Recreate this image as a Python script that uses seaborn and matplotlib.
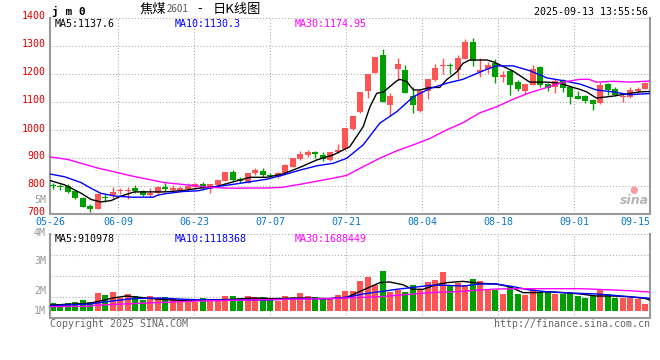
import numpy as np
import pandas as pd
import matplotlib
matplotlib.use("Agg")
import matplotlib.pyplot as plt
import matplotlib.transforms as mtransforms
import seaborn as sns

# ---------------- data ----------------
opens = [803, 801, 799, 781, 757, 730, 718, 762, 767, 781, 781, 792, 781, 767, 776, 798, 786, 782, 791, 795,
         806, 790, 803, 819, 850, 826, 812, 848, 854, 838, 831, 845, 869, 897, 912, 923, 912, 893, 922, 931,
         1002, 1064, 1139, 1205, 1268, 1090, 1218, 1214, 1121, 1067, 1140, 1179, 1229, 1233, 1214, 1255, 1314, 1208, 1217, 1240,
         1190, 1210, 1171, 1141, 1162, 1224, 1164, 1155, 1179, 1152, 1121, 1121, 1107, 1095, 1164, 1145, 1119, 1117, 1140, 1148]
highs = [810, 808, 807, 786, 762, 735, 774, 770, 796, 793, 798, 804, 786, 794, 801, 812, 805, 800, 812, 812,
         814, 806, 822, 850, 857, 831, 848, 864, 864, 845, 851, 879, 901, 925, 929, 926, 922, 922, 950, 1007,
         1050, 1136, 1200, 1262, 1288, 1131, 1257, 1233, 1152, 1143, 1181, 1236, 1257, 1238, 1269, 1324, 1329, 1256, 1243, 1252,
         1212, 1217, 1179, 1164, 1233, 1229, 1167, 1181, 1183, 1157, 1140, 1124, 1107, 1171, 1169, 1155, 1131, 1152, 1155, 1171]
lows = [791, 787, 774, 754, 726, 708, 717, 744, 758, 771, 754, 774, 764, 762, 773, 782, 777, 777, 787, 790,
        786, 776, 798, 819, 819, 810, 812, 841, 831, 829, 828, 845, 867, 893, 903, 899, 891, 891, 919, 929,
        1000, 1062, 1114, 1205, 1100, 1050, 1179, 1131, 1062, 1064, 1112, 1176, 1200, 1200, 1183, 1252, 1229, 1190, 1205, 1169,
        1171, 1126, 1138, 1129, 1160, 1155, 1140, 1133, 1136, 1093, 1110, 1098, 1071, 1093, 1124, 1121, 1100, 1114, 1133, 1145]
closes = [799, 798, 779, 757, 726, 718, 771, 756, 779, 785, 786, 782, 768, 776, 798, 791, 793, 793, 800, 808,
          794, 806, 822, 850, 822, 819, 845, 857, 838, 834, 848, 875, 899, 914, 922, 913, 898, 922, 929, 1006,
          1050, 1136, 1200, 1262, 1100, 1121, 1236, 1133, 1090, 1140, 1181, 1221, 1233, 1230, 1257, 1314, 1248, 1215, 1233, 1188,
          1198, 1162, 1145, 1164, 1217, 1160, 1150, 1174, 1150, 1119, 1112, 1105, 1093, 1160, 1143, 1124, 1121, 1143, 1148, 1167]
volumes_m = [0.69, 0.58, 0.69, 0.78, 0.94, 0.75, 1.52, 1.36, 1.61, 1.08, 1.45, 1.25, 0.92, 1.27, 1.05, 1.14, 0.97, 0.86, 0.97, 0.75,
             1.11, 0.83, 0.83, 1.25, 1.25, 1.08, 1.25, 1.17, 1.17, 0.92, 0.83, 1.27, 1.14, 1.50, 1.25, 1.14, 1.03, 1.05, 1.33, 1.67,
             1.67, 2.50, 2.84, 2.17, 3.33, 1.58, 1.75, 1.58, 2.17, 1.82, 2.41, 2.59, 3.25, 2.11, 2.33, 2.17, 2.66, 2.50, 1.80, 1.75,
             1.42, 2.00, 1.42, 1.33, 1.92, 1.61, 1.61, 1.42, 1.42, 1.48, 1.27, 1.08, 1.25, 1.83, 1.42, 1.08, 1.08, 1.08, 1.00, 0.58]

# moving-average lines, read as (candle index, value) vertices
ma5_x = [-0.4, 1.6, 3.8, 5.1, 6.4, 7.8, 9.1, 10.9, 14.9, 17.2, 19.4, 21.8, 24.1, 26.3, 28.5, 30.7, 33, 35.2, 37.4,
         39.6, 40.5, 41.4, 42.3, 43.2, 44.1, 45.9, 46.3, 47.2, 48.1, 49, 50.3, 51.6, 52.5, 53.9, 54.7, 55.6, 57.9,
         58.8, 59.6, 61.4, 63.6, 65.9, 67.6, 69.4, 70.3, 71.2, 72.5, 74.7, 77, 78.3, 79.6]
ma5_y = [820, 804, 774, 752, 743, 748, 764, 779, 779, 783, 792, 798, 815, 831, 831, 843, 867, 893, 911,
         940, 976, 1012, 1083, 1131, 1136, 1176, 1181, 1173, 1143, 1143, 1152, 1152, 1179, 1208, 1238, 1250, 1250,
         1243, 1233, 1210, 1171, 1171, 1167, 1152, 1145, 1136, 1114, 1121, 1131, 1136, 1137.6]
ma10_x = [-0.4, 1.6, 3.8, 5.1, 6.4, 8.3, 10.5, 13.4, 14, 14.9, 17.2, 19.4, 21.8, 24.1, 26.3, 28.5, 30.7, 33, 35.2, 37.4,
          39.2, 41.4, 43.6, 45.9, 48.1, 50.3, 52.5, 54.7, 57, 58.3, 59.2, 61.4, 63.6, 65.9, 68.1, 70.3, 72.5, 74.7, 77, 79.6]
ma10_y = [843, 833, 812, 792, 774, 764, 760, 760, 767, 772, 780, 783, 798, 806, 815, 824, 839, 857, 872, 881,
          899, 947, 1024, 1066, 1119, 1148, 1167, 1181, 1207, 1221, 1229, 1229, 1212, 1186, 1176, 1164, 1143, 1136, 1126, 1130.3]
ma30_x = [-0.4, 2.0, 3.8, 6.0, 8.3, 10.5, 12.7, 14.9, 17.2, 19.4, 20.5, 23.6, 28.5, 30.5, 33, 35.2, 37.4, 39.2,
          41.4, 43.6, 45.9, 48.1, 50.3, 52.5, 54.7, 57, 59.2, 61.4, 63.6, 65.9, 68.1, 70.3, 71.5, 72.5, 74.7, 77, 79.6]
ma30_y = [904, 895, 881, 864, 850, 836, 824, 812, 806, 800, 796, 792, 793, 795, 806, 817, 828, 838,
          869, 899, 926, 947, 970, 1000, 1026, 1062, 1083, 1110, 1133, 1152, 1171, 1181, 1181, 1171, 1174, 1171, 1174.95]

vma5_x = [-0.4, 4.9, 6.3, 8.0, 9.8, 11.6, 14.3, 17.8, 20.5, 24, 26.7, 29.4, 33, 36.9, 39.2, 41.4, 43.6, 44.9, 46.7, 48,
          49.4, 51.1, 52.5, 54.7, 56.9, 59.1, 60.9, 62.7, 64.5, 65.8, 68, 70.3, 72.5, 74.7, 76.9, 79.1, 79.6]
vma5_y = [0.49, 0.64, 0.83, 1.08, 1.25, 1.14, 0.97, 0.86, 0.92, 0.97, 1.08, 1.03, 1.08, 1.03, 1.14, 1.75, 2.36, 2.42, 2.19, 1.81,
          1.81, 2.19, 2.36, 2.47, 2.31, 2.25, 2.03, 1.53, 1.53, 1.61, 1.53, 1.42, 1.25, 1.25, 1.19, 1.03, 0.91]
vma10_x = [-0.4, 4.9, 7.6, 10.7, 14.3, 17.8, 20.5, 24, 28.5, 33, 36.9, 39.2, 41.4, 43.6, 45.9, 48.1, 50.3, 52.5, 54.7, 56.9,
           59.1, 61.4, 63.6, 65.8, 68.1, 70.3, 72.5, 74.7, 76.9, 79.6]
vma10_y = [0.44, 0.58, 0.81, 1.03, 1.08, 0.97, 0.92, 0.92, 0.92, 1.03, 1.03, 1.14, 1.42, 1.61, 1.81, 1.97, 2.14, 2.14, 2.08, 2.25,
           2.25, 2.03, 1.75, 1.61, 1.53, 1.47, 1.42, 1.31, 1.19, 1.06]
vma30_x = [-0.4, 4.9, 5.4, 8.5, 14.7, 19.1, 28, 36.9, 39.2, 41.4, 43.6, 45.9, 48.1, 50.3, 52.5, 54.7, 56.9, 59.1, 61.4, 63.6,
           65.8, 68.1, 70.3, 72.5, 74.7, 76.9, 79.6]
vma30_y = [0.36, 0.39, 0.47, 0.56, 0.72, 0.83, 0.94, 1.03, 1.08, 1.14, 1.19, 1.31, 1.42, 1.53, 1.58, 1.64, 1.75, 1.83, 1.86, 1.86,
           1.86, 1.86, 1.86, 1.81, 1.75, 1.69, 1.58]

price_ticks = [700, 800, 900, 1000, 1100, 1200, 1300, 1400]
date_labels = ["05-26", "06-09", "06-23", "07-07", "07-21", "08-04", "08-18", "09-01", "09-15"]
vol_labels = ["5M", "4M", "3M", "2M", "1M"]
price_legend = ["MA5:1137.6", "MA10:1130.3", "MA30:1174.95"]
vol_legend = ["MA5:910978", "MA10:1118368", "MA30:1688449"]

# ---------------- styling / layout ----------------
RED = "#ff5454"
GREEN = "#009f00"
BLUE_MA = "#0000ff"
MAG = "#ff00ff"
DATE_C = "#0a78d2"
GRID_C = "#a8a8a8"
SPINE_C = "#9a9a9a"

sns.set_theme(style="white")
plt.rcParams["font.family"] = ["DejaVu Sans Mono", "Noto Sans CJK SC"]

W, H = 660, 360
fig = plt.figure(figsize=(W / 100, H / 100), dpi=100)
fig.patch.set_facecolor("white")


def fx(px):
    return px / W


def fy(py):
    return 1 - py / H


def T(px, py, s, **kw):
    kw.setdefault("fontsize", 7.2)
    kw.setdefault("va", "center")
    kw.setdefault("ha", "left")
    fig.text(fx(px), fy(py), s, **kw)


PX0, PX1, STEP, C0 = 50, 650, 7.5, 52.7   # panel pixels, candle spacing
def dx(px):
    return (px - C0) / STEP


ax = fig.add_axes([fx(PX0), fy(214), fx(PX1 - PX0), (214 - 18) / H])
axv = fig.add_axes([fx(PX0), fy(318), fx(PX1 - PX0), (318 - 234) / H], sharex=ax)

n = len(closes)
idx = np.arange(n)
o = np.array(opens, float)
c = np.array(closes, float)
up = c >= o
cols = np.where(up, RED, GREEN)

# grid first
grid_px = [118, 194, 270, 346, 422, 498, 574]
for a in (ax, axv):
    for gp in grid_px:
        a.axvline(dx(gp), color=GRID_C, lw=0.75, ls=(0, (1, 2)), zorder=0.5)
for t in price_ticks:
    ax.axhline(t, color=GRID_C, lw=0.75, ls=(0, (1, 2)), zorder=0.5, clip_on=False)

# candles
ax.vlines(idx, lows, highs, colors=cols, lw=1.0, zorder=2)
body_b = np.minimum(o, c)
body_h = np.maximum(np.abs(c - o), 2.5)
ax.bar(idx, body_h, bottom=body_b, width=0.8, color=cols, linewidth=0, zorder=3)

df_ma = pd.concat([
    pd.DataFrame({"x": ma5_x, "y": ma5_y, "ma": "MA5"}),
    pd.DataFrame({"x": ma10_x, "y": ma10_y, "ma": "MA10"}),
    pd.DataFrame({"x": ma30_x, "y": ma30_y, "ma": "MA30"}),
])
sns.lineplot(data=df_ma, x="x", y="y", hue="ma", palette={"MA5": "black", "MA10": BLUE_MA, "MA30": MAG},
             estimator=None, sort=False, linewidth=1.0, legend=False, ax=ax, zorder=4)

ax.set_xlim(dx(PX0), dx(PX1))
ax.set_ylim(700, 1400)
ax.set_yticks(price_ticks)
ax.set_yticklabels([str(t) for t in price_ticks])
ax.tick_params(axis="y", length=0, pad=3, labelcolor="#e00000", labelsize=7.2)
up2 = mtransforms.ScaledTranslation(0, 2.5 / 100, fig.dpi_scale_trans)
for lab in ax.get_yticklabels():
    lab.set_transform(lab.get_transform() + up2)
date_px = [PX0, 118, 194, 270, 346, 422, 498, 574, PX1]
ax.set_xticks([dx(p) for p in date_px])
ax.set_xticklabels(date_labels)
ax.tick_params(axis="x", length=0, pad=2.5, labelcolor=DATE_C, labelsize=7.2)
xl = ax.get_xticklabels()
xl[-1].set_ha("right")
xl[0].set_ha("center")
ax.set_xlabel("")
ax.set_ylabel("")

# volume panel
VZERO, VPXM = 311, 12.0
vb = -(318 - VZERO) / VPXM
vt = (VZERO - 234) / VPXM
axv.bar(idx, volumes_m, width=0.8, color=cols, linewidth=0, zorder=2)
df_vma = pd.concat([
    pd.DataFrame({"x": vma5_x, "y": vma5_y, "ma": "MA5"}),
    pd.DataFrame({"x": vma10_x, "y": vma10_y, "ma": "MA10"}),
    pd.DataFrame({"x": vma30_x, "y": vma30_y, "ma": "MA30"}),
])
sns.lineplot(data=df_vma, x="x", y="y", hue="ma", palette={"MA5": "black", "MA10": BLUE_MA, "MA30": MAG},
             estimator=None, sort=False, linewidth=1.0, legend=False, ax=axv, zorder=4)
axv.set_ylim(vb, vt)
for gpy in [234, 255, 276, 297]:
    axv.axhline((VZERO - gpy) / VPXM, color=GRID_C, lw=0.75, ls=(0, (1, 2)), zorder=0.5, clip_on=False)
axv.set_yticks([])
axv.tick_params(axis="x", length=0, labelbottom=False)
axv.set_xlabel("")
axv.set_ylabel("")

for a in (ax, axv):
    a.spines["top"].set_visible(False)
    for s in ("left", "right", "bottom"):
        a.spines[s].set_color(SPINE_C)
        a.spines[s].set_linewidth(1.5)
    a.set_facecolor("white")

# ---------------- texts ----------------
T(52, 11, "j m 0", fontsize=8, fontweight="bold", color="black")
T(140, 9, "焦煤", fontsize=9.5, family=["Noto Sans CJK SC"], color="black")
T(167, 9.5, "2601", fontsize=7, family=["Noto Sans CJK SC"], color="#555555")
T(200, 9, "-", ha="center", fontsize=9.5, family=["Noto Sans CJK SC"], color="black")
T(213, 9, "日K线图", fontsize=9.5, family=["Noto Sans CJK SC"], color="black")
T(648, 12, "2025-09-13 13:55:56", ha="right", color="black")

leg_px = [55, 175, 295]
leg_col = ["black", BLUE_MA, MAG]
for s, p, col in zip(price_legend, leg_px, leg_col):
    T(p, 24, s, color=col)
for s, p, col in zip(vol_legend, leg_px, leg_col):
    T(p, 239, s, color=col)

vol_label_py = [200, 233, 261, 291, 311]
for s, py in zip(vol_labels, vol_label_py):
    T(46, py, s, ha="right", color="#999999")

T(50, 324, "Copyright 2025 SINA.COM", color="#666666")
T(650, 324, "http://finance.sina.com.cn", ha="right", color="#666666")
T(634, 200, "sina", ha="center", fontsize=9, style="italic", fontweight="bold",
  family=["DejaVu Sans"], color="#b5b5b5")
T(634, 190, "●", ha="center", fontsize=7, family=["DejaVu Sans"], color="#f4a0a0")

fig.savefig("out.png", dpi=100, facecolor="white")
